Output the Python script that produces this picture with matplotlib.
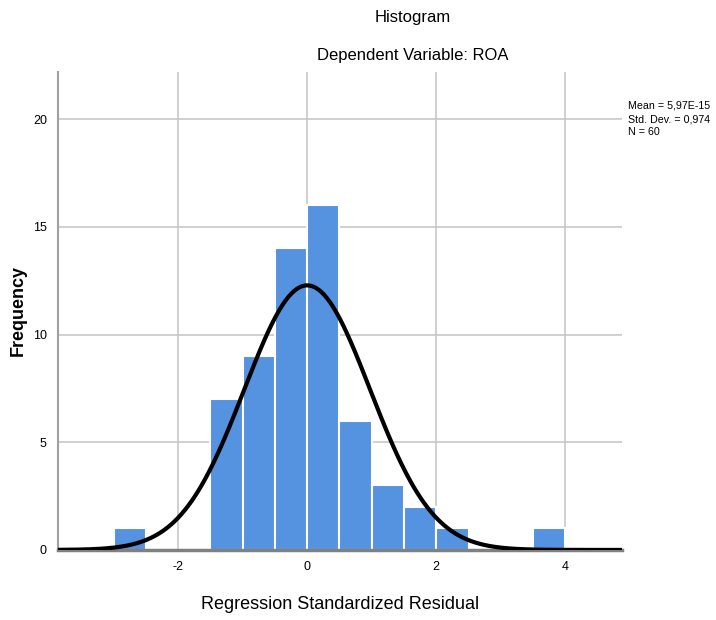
import numpy as np
import matplotlib
matplotlib.use("Agg")
import matplotlib.pyplot as plt

plt.rcParams['font.family'] = ['Liberation Sans', 'DejaVu Sans']
plt.rcParams['axes.unicode_minus'] = False

bin_edges = [-3.0, -2.5, -2.0, -1.5, -1.0, -0.5, 0.0, 0.5, 1.0, 1.5, 2.0, 2.5, 3.0, 3.5, 4.0]
counts = [1, 0, 0, 7, 9, 14, 16, 6, 3, 2, 1, 0, 0, 1]
mean = 5.97e-15
std = 0.974
n = 60
xticks = [-2, 0, 2, 4]
yticks = [0, 5, 10, 15, 20]

fig = plt.figure(figsize=(7.16, 6.2), dpi=100)
ax = fig.add_axes([0.081, 0.113, 0.788, 0.771])

ax.set_xlim(-3.86, 4.88)
ax.set_ylim(0, 22.2)
ax.set_xticks(xticks)
ax.set_yticks(yticks)
ax.grid(True, color='#c8c8c8', linewidth=1.2)
ax.set_axisbelow(True)

edges = np.array(bin_edges)
cnt = np.array(counts)
lefts = edges[:-1]
widths = np.diff(edges)
mask = cnt > 0
ax.bar(lefts[mask], cnt[mask], width=widths[mask], align='edge', color='#5592e0',
       edgecolor='white', linewidth=1.5, zorder=2)

xs = np.linspace(-3.86, 4.88, 500)
bw = 0.5
pdf = n * bw / (std * np.sqrt(2 * np.pi)) * np.exp(-0.5 * ((xs - mean) / std) ** 2)
ax.plot(xs, pdf, color='black', linewidth=3, zorder=3)

for s in ['top', 'right']:
    ax.spines[s].set_visible(False)
ax.spines['left'].set_color('#a0a0a0')
ax.spines['left'].set_linewidth(1.5)
ax.spines['bottom'].set_color('#808080')
ax.spines['bottom'].set_linewidth(2.5)
ax.tick_params(length=0, labelsize=9, pad=8)

fig.text(0.475, 0.025, 'Regression Standardized Residual', ha='center', va='center', fontsize=13)
fig.text(0.026, 0.5, 'Frequency', ha='center', va='center', rotation=90,
         fontsize=13, fontweight='bold')

fig.text(0.577, 0.972, 'Histogram', ha='center', va='center', fontsize=12)
fig.text(0.577, 0.911, 'Dependent Variable: ROA', ha='center', va='center', fontsize=12)
fig.text(0.877, 0.808, 'Mean = 5,97E-15\nStd. Dev. = 0,974\nN = 60', ha='left', va='center',
         fontsize=7.7, linespacing=1.4)

fig.savefig('out.png', dpi=100)
